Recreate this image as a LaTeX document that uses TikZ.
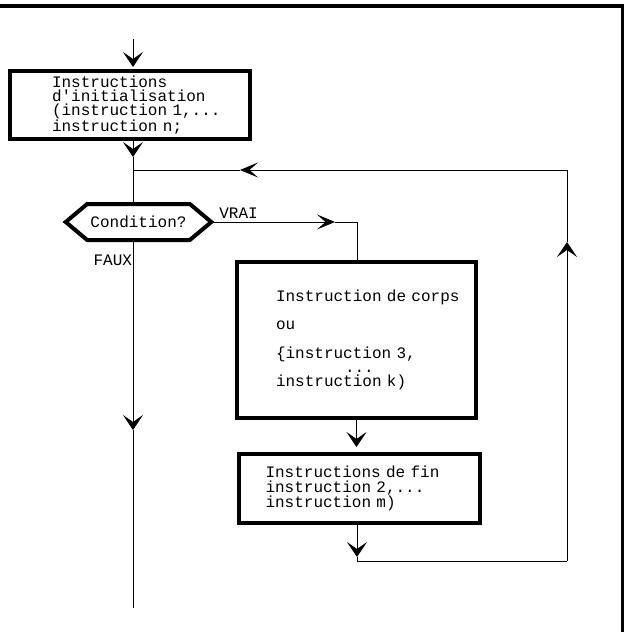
\documentclass[tikz,border=0pt]{standalone}
\usepackage{fontspec}
\setmonofont{Liberation Mono}
\usetikzlibrary{positioning, arrows.meta, shapes.symbols}

\tikzset{
  txt/.style={font=\ttfamily\fontsize{16pt}{14.3pt}\selectfont},
  block/.style={txt, rectangle, draw, line width=4pt, align=left},
  decision/.style={txt, signal, signal to=west and east, signal pointer angle=80, draw, line width=4pt},
  arrv/.style={-{Stealth[length=15pt, width=20pt, inset=7pt]}},
  arrh/.style={-{Stealth[length=18pt, width=15pt, inset=8.5pt]}},
}

\begin{document}
\begin{tikzpicture}[x=1pt, y=-1pt, line width=1pt]
\useasboundingbox (0,0) rectangle (624,632);
% cadre
\draw[line width=4pt] (0,6) -- (624,6);
\draw[line width=3pt] (622.5,4) -- (622.5,632);

% blocs
\node[block, minimum width=240pt, minimum height=68pt, text width=156pt] (init) at (130,105)
  {Instructions\\d'initialisation\\(instruction~1,...\\instruction n;};
\node[decision, minimum width=129pt, minimum height=36pt] (cond) at (138.5,222) {Condition?};
\node[block, minimum width=239pt, minimum height=156pt, text width=161pt] (corps) at (356.5,340)
  {Instruction~de~corps\\[14pt]ou\\[14pt]\{instruction 3,\\\hspace*{69pt}...\\instruction k)};
\node[block, minimum width=241pt, minimum height=69pt, text width=188pt] (fin) at (359.5,488.5)
  {Instructions de fin\\instruction 2,...\\instruction m)};

% points de passage
\coordinate (entree) at (133,39);
\coordinate (f1) at (133,157);
\coordinate (jonc) at (133,170);
\coordinate (fl) at (240,170);
\coordinate (hd) at (567,170);
\coordinate (fh) at (567,242);
\coordinate (bd) at (567,561);
\coordinate (bg) at (357,561);
\coordinate (fb) at (357,557);
\coordinate (fv) at (335,222);
\coordinate (vd) at (357,222);
\coordinate (fm) at (133,430);
\coordinate (sortie) at (133,608);

% liaisons
\draw[arrv, shorten >=2pt] (entree) -- (entree |- init.north);
\draw[arrv] (entree |- init.south) -- (f1);
\draw (f1) -- (f1 |- cond.north);
\draw[arrh] (hd) -- (fl);
\draw (fl) -- (jonc);
\draw[arrh] (cond.east) -- node[txt, above, pos=0.2] {VRAI} (fv);
\draw (fv) -- (vd) -- (vd |- corps.north);
\draw[arrv] (jonc |- cond.south) -- node[txt, left, pos=0.1, inner sep=0.5pt] {FAUX} (fm);
\draw (fm) -- (sortie);
\draw[arrv, shorten >=5pt] (corps.south) -- (corps.south |- fin.north);
\draw[arrv] (fb |- fin.south) -- (fb);
\draw (fb) -- (bg) -- (bd);
\draw[arrv] (bd) -- (fh);
\draw (fh) -- (hd);
\end{tikzpicture}
\end{document}
